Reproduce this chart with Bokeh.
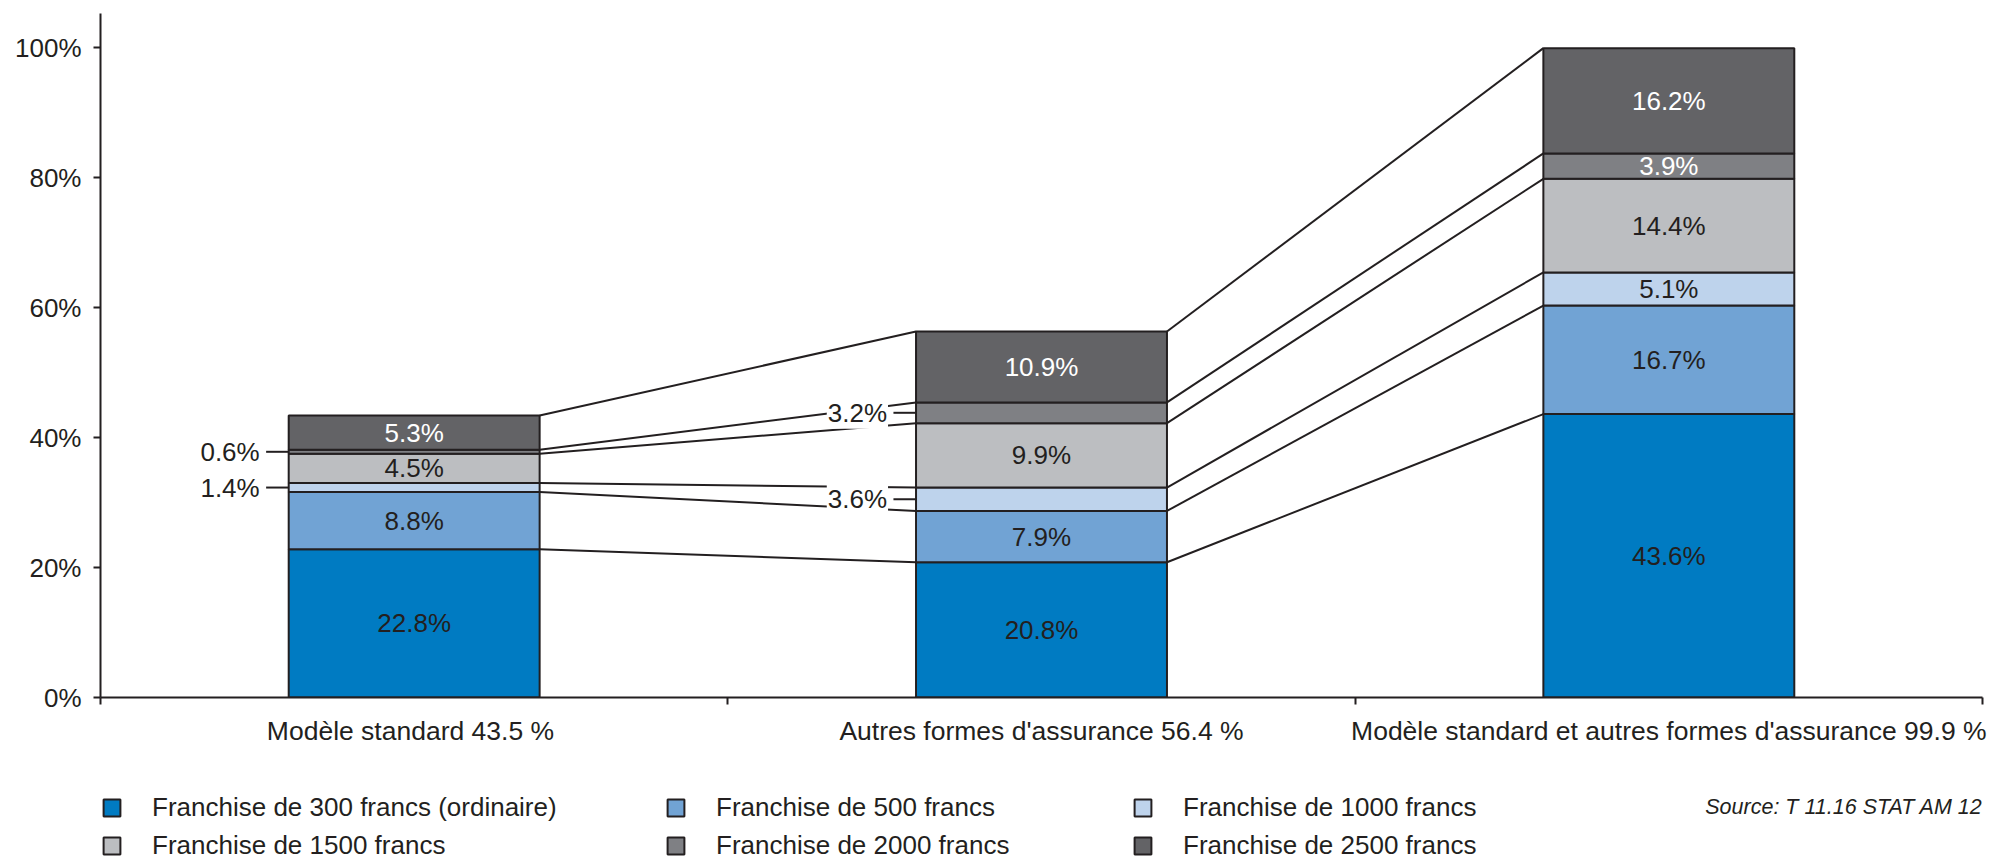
from bokeh.plotting import figure
from bokeh.layouts import column
from bokeh.models import Range1d, FixedTicker, Label, Legend, LegendItem, ColumnDataSource
from bokeh.embed import file_html
from bokeh.resources import INLINE
from bokeh.core.properties import value

# ---- data ----
categories = ["Modèle standard  43.5 %",
              "Autres formes d'assurance 56.4 %",
              "Modèle standard et autres formes d'assurance 99.9 %"]
series_names = ["Franchise de 300 francs (ordinaire)",
                "Franchise de 500 francs",
                "Franchise de 1000 francs",
                "Franchise de 1500 francs",
                "Franchise de 2000 francs",
                "Franchise de 2500 francs"]
v300 = [22.8, 20.8, 43.6]
v500 = [8.8, 7.9, 16.7]
v1000 = [1.4, 3.6, 5.1]
v1500 = [4.5, 9.9, 14.4]
v2000 = [0.6, 3.2, 3.9]
v2500 = [5.3, 10.9, 16.2]
y_ticks = [0, 20, 40, 60, 80, 100]
y_tick_labels = ["0%", "20%", "40%", "60%", "80%", "100%"]
source_text = "Source: T 11.16 STAT AM 12"
# labels drawn outside the bar (bar index, series index)
outside_labels = [(0, 2), (0, 4), (1, 2), (1, 4)]

# ---- style ----
DARK = "#231f20"
FONT = "Liberation Sans"
colors = ["#007bc2", "#71a3d4", "#bed3ec", "#bcbec1", "#7f8084", "#636366"]
text_colors = [DARK, DARK, DARK, DARK, "white", "white"]
BAR_W = 0.4
W = 1988
ML, MR = 100, 6

series = [v300, v500, v1000, v1500, v2000, v2500]
xs = [i + 0.5 for i in range(len(categories))]

bottoms, tops = [], []
acc = [0.0] * len(categories)
for s in series:
    bottoms.append(list(acc))
    acc = [a + v for a, v in zip(acc, s)]
    tops.append(list(acc))

p = figure(width=W, height=765, x_range=Range1d(0, 3), y_range=Range1d(0, 684 / 6.5),
           output_backend="svg", toolbar_location=None, title=None,
           min_border_left=ML, min_border_right=MR, min_border_top=13, min_border_bottom=68)
p.xgrid.visible = False
p.ygrid.visible = False
p.outline_line_color = None
p.background_fill_color = "white"

# connector lines between bars
cx0, cy0, cx1, cy1 = [], [], [], []
for i in range(len(categories) - 1):
    for s in range(len(series)):
        cx0.append(xs[i] + BAR_W / 2)
        cy0.append(tops[s][i])
        cx1.append(xs[i + 1] - BAR_W / 2)
        cy1.append(tops[s][i + 1])
p.segment(x0=cx0, y0=cy0, x1=cx1, y1=cy1, line_color=DARK, line_width=2)

# bars
for s in range(len(series)):
    p.vbar(x=xs, bottom=bottoms[s], top=tops[s], width=BAR_W,
           fill_color=colors[s], line_color=DARK, line_width=2)

# inside labels
tx, ty, tt, tc = [], [], [], []
for s in range(len(series)):
    for i in range(len(categories)):
        if (i, s) in outside_labels:
            continue
        tx.append(xs[i])
        ty.append((bottoms[s][i] + tops[s][i]) / 2)
        tt.append(f"{series[s][i]:.1f}%")
        tc.append(text_colors[s])
p.text(x="x", y="y", text="t", text_color="c",
       source=ColumnDataSource(dict(x=tx, y=ty, t=tt, c=tc)),
       text_align="center", text_baseline="middle",
       text_font=value(FONT), text_font_size=value("26px"))

# outside labels with leader lines
lx0, lx1, ly = [], [], []
for (i, s) in outside_labels:
    mid = (bottoms[s][i] + tops[s][i]) / 2
    left = xs[i] - BAR_W / 2
    lx0.append(left - 0.036)
    lx1.append(left)
    ly.append(mid)
    p.add_layout(Label(x=left, y=mid, x_offset=-28, text=f"{series[s][i]:.1f}%",
                       text_align="right", text_baseline="middle",
                       text_font=FONT, text_font_size="26px", text_color=DARK,
                       background_fill_color="white", padding=1))
p.segment(x0=lx0, y0=ly, x1=lx1, y1=ly, line_color=DARK, line_width=2)

# axes
p.yaxis.ticker = FixedTicker(ticks=y_ticks)
p.yaxis.major_label_overrides = dict(zip(y_ticks, y_tick_labels))
p.yaxis.minor_tick_line_color = None
p.yaxis.major_tick_out = 7
p.yaxis.major_tick_in = 0
p.yaxis.major_tick_line_width = 2
p.yaxis.major_tick_line_color = DARK
p.yaxis.axis_line_width = 2
p.yaxis.axis_line_color = DARK
p.yaxis.major_label_standoff = 12
p.yaxis.major_label_text_font = FONT
p.yaxis.major_label_text_font_size = "26px"
p.yaxis.major_label_text_color = DARK

p.xaxis.ticker = FixedTicker(ticks=xs, minor_ticks=[0, 1, 2, 3])
p.xaxis.major_label_overrides = dict(zip(xs, categories))
p.xaxis.major_tick_line_color = None
p.xaxis.major_tick_out = 0
p.xaxis.major_tick_in = 0
p.xaxis.minor_tick_line_color = DARK
p.xaxis.minor_tick_line_width = 2
p.xaxis.minor_tick_out = 7
p.xaxis.minor_tick_in = 0
p.xaxis.axis_line_width = 2
p.xaxis.axis_line_color = DARK
p.xaxis.major_label_standoff = 11
p.xaxis.major_label_text_font = FONT
p.xaxis.major_label_text_font_size = "26.5px"
p.xaxis.major_label_text_color = DARK

# ---- legend strip (hidden swatch renderers carry the series styles) ----
LH = 94
q = figure(width=W, height=LH, x_range=Range1d(0, 3), y_range=Range1d(0, 1),
           output_backend="svg", toolbar_location=None, title=None,
           x_axis_type=None, y_axis_type=None,
           min_border_left=ML, min_border_right=MR, min_border_top=0, min_border_bottom=0)
q.xgrid.visible = False
q.ygrid.visible = False
q.outline_line_color = None

swatches = []
for s in range(len(series)):
    r = q.vbar(x=xs, bottom=bottoms[s], top=tops[s], width=BAR_W,
               fill_color=colors[s], line_color=DARK, line_width=2)
    r.visible = False
    swatches.append(r)

legend_cols = [[0, 3], [1, 4], [2, 5]]
legend_x = [1, 565, 1032]
for col, lx in zip(legend_cols, legend_x):
    leg = Legend(items=[LegendItem(label=series_names[k], renderers=[swatches[k]], index=0) for k in col],
                 location=(lx, -1.5), orientation="vertical", padding=0, margin=0, spacing=7,
                 glyph_width=21, glyph_height=21, label_height=30, label_standoff=30,
                 label_text_font=FONT, label_text_font_size="26px", label_text_color=DARK,
                 border_line_color=None, background_fill_alpha=0, click_policy="none")
    q.add_layout(leg, "center")

q.add_layout(Label(x=3, y=53, y_units="screen", text=source_text, text_align="right",
                   text_baseline="middle", text_font=FONT, text_font_size="21.5px",
                   text_font_style="italic", text_color=DARK))

layout = column(p, q, spacing=0)
open("out.html", "w").write(file_html(layout, INLINE))
